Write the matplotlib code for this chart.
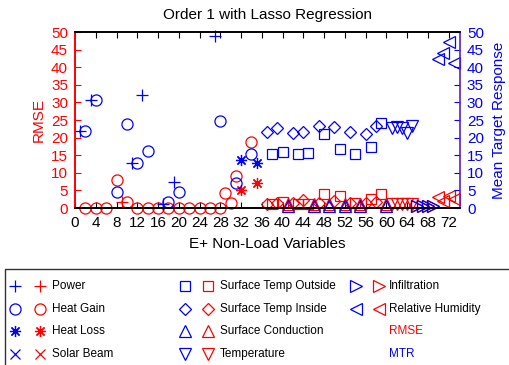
import numpy as np
import matplotlib.pyplot as plt

plt.rcParams['font.family'] = ['Liberation Sans', 'DejaVu Sans']

nan = np.nan

# x index of each variable, RMSE (red, left axis) and MTR (blue, right axis)
# nan = not shown in the picture
power_x = [1, 3, 9, 11, 13, 17, 19, 27]
power_rmse = [nan, nan, 1.8, nan, nan, nan, nan, nan]
power_mtr = [22.0, 30.8, nan, 12.7, 32.2, 1.0, 7.3, 49.0]

gain_x = [2, 4, 6, 8, 10, 12, 14, 16, 18, 20, 22, 24, 26, 28, 29, 30, 31, 34]
gain_rmse = [0, 0, 0, 8.0, 1.8, 0, 0, 0, 0, 0, 0, 0, 0, 0, 4.2, 1.4, 9.2, 18.7]
gain_mtr = [22.0, 30.8, nan, 4.5, 23.9, 12.7, 16.1, nan, 1.8, 4.5,
            nan, nan, nan, 24.6, nan, nan, 7.2, 15.4]

loss_x = [32, 35]
loss_rmse = [5.0, 7.0]
loss_mtr = [13.5, 12.7]

solar_x = []
solar_rmse = []
solar_mtr = []

stout_x = [38, 40, 43, 45, 48, 51, 54, 57, 59]
stout_rmse = [1.0, 1.6, 1.2, 1.2, 4.0, 3.3, 1.5, 2.5, 4.0]
stout_mtr = [15.2, 16.0, 15.4, 15.6, 20.9, 16.9, 15.4, 17.3, 24.2]

stin_x = [37, 39, 42, 44, 47, 50, 53, 56, 58]
stin_rmse = [1.2, 1.5, 1.5, 2.2, 1.5, 2.0, 1.5, 1.5, 1.8]
stin_mtr = [21.7, 22.8, 21.2, 21.6, 23.2, 22.9, 21.6, 20.9, 23.4]

cond_x = [41, 46, 49, 52, 55, 60]
cond_rmse = [1.2, 1.0, 1.0, 1.0, 1.2, 1.0]
cond_mtr = [0.5, 0.5, 0.5, 0.5, 0.5, 0.5]

temp_x = [61, 62, 63, 64, 65]
temp_rmse = [1.0, 1.0, 1.0, 1.0, 1.0]
temp_mtr = [22.6, 23.0, 22.8, 21.2, 23.2]

inf_x = [66, 67, 68, 69]
inf_rmse = [0.5, 0.5, 0.5, 0.5]
inf_mtr = [0.5, 0.5, 0.5, 0.5]

rh_x = [70, 71, 72, 73]
rh_rmse = [3.0, 2.0, 3.5, 2.5]
rh_mtr = [42.4, 44.0, 47.1, 41.1]

names = ['Power', 'Heat Gain', 'Heat Loss', 'Solar Beam', 'Surface Temp Outside',
         'Surface Temp Inside', 'Surface Conduction', 'Temperature', 'Infiltration',
         'Relative Humidity']
xs_all = [power_x, gain_x, loss_x, solar_x, stout_x, stin_x, cond_x, temp_x, inf_x, rh_x]
rmse_all = [power_rmse, gain_rmse, loss_rmse, solar_rmse, stout_rmse, stin_rmse,
            cond_rmse, temp_rmse, inf_rmse, rh_rmse]
mtr_all = [power_mtr, gain_mtr, loss_mtr, solar_mtr, stout_mtr, stin_mtr,
           cond_mtr, temp_mtr, inf_mtr, rh_mtr]
markers = ['+', 'o', (8, 2, 0), 'x', 's', 'D', '^', 'v', '>', '<']
msizes = [8.5, 8, 8, 6.5, 7, 6, 8, 8, 8, 8]

red = '#ff0000'
blue = '#0000ff'

fig = plt.figure(figsize=(5.1, 3.65), dpi=100)
ax = fig.add_axes([75/510, 1-208/365, 385/510, 176/365])
ax2 = ax.twinx()

for m, ms, xs, rm in zip(markers, msizes, xs_all, rmse_all):
    ax.plot(xs, rm, linestyle='none', marker=m, ms=ms, mfc='none', mec=red, mew=0.9, clip_on=False)
for m, ms, xs, mt in zip(markers, msizes, xs_all, mtr_all):
    ax2.plot(xs, mt, linestyle='none', marker=m, ms=ms, mfc='none', mec=blue, mew=0.9, clip_on=False)

ax.set_xlim(0, 74.2)
ax.set_ylim(0, 50)
ax2.set_ylim(0, 50)
ax.set_xticks(np.arange(0, 73, 4))
ax.set_yticks(np.arange(0, 51, 5))
ax2.set_yticks(np.arange(0, 51, 5))

ax.tick_params(axis='x', direction='in', top=True, length=4, labelsize=11, pad=6)
ax.tick_params(axis='y', direction='in', colors=red, length=4, labelsize=11, pad=5)
ax2.tick_params(axis='y', direction='in', colors=blue, length=4, labelsize=11, pad=5)
ax.spines['left'].set_color(red)
ax2.spines['left'].set_color(red)
ax2.spines['right'].set_color('#5a1ec8')
ax.spines['right'].set_visible(False)
for a in (ax, ax2):
    for s in a.spines.values():
        s.set_linewidth(1.2)

ax.set_ylabel('RMSE', color=red, fontsize=11, labelpad=4)
ax2.set_ylabel('Mean Target Response', color=blue, fontsize=11, labelpad=6)
ax.set_xlabel('E+ Non-Load Variables', fontsize=11, labelpad=5)
ax.set_title('Order 1 with Lasso Regression', fontsize=11, pad=9)

# legend drawn in pixel coordinates
lg = fig.add_axes([0, 0, 1, 1])
lg.set_xlim(0, 510)
lg.set_ylim(365, 0)
lg.axis('off')
lg.add_patch(plt.Rectangle((5, 269), 520, 110, fill=False, ec='#333333', lw=1))
rows = [286, 309, 331, 354]
cols = [(15, 40, 52), (185, 208, 220), (356, 379, 389)]
for i, (name, m, ms) in enumerate(zip(names, markers, msizes)):
    c = cols[i // 4]
    r = rows[i % 4]
    lg.plot([c[0]], [r], linestyle='none', marker=m, ms=ms, mfc='none', mec=blue, mew=0.9)
    lg.plot([c[1]], [r], linestyle='none', marker=m, ms=ms, mfc='none', mec=red, mew=0.9)
    lg.text(c[2], r, name, fontsize=8.5, va='center', ha='left')
lg.text(cols[2][2], rows[2], 'RMSE', color=red, fontsize=8.5, va='center', ha='left')
lg.text(cols[2][2], rows[3], 'MTR', color=blue, fontsize=8.5, va='center', ha='left')

fig.savefig('out.png', dpi=100)
